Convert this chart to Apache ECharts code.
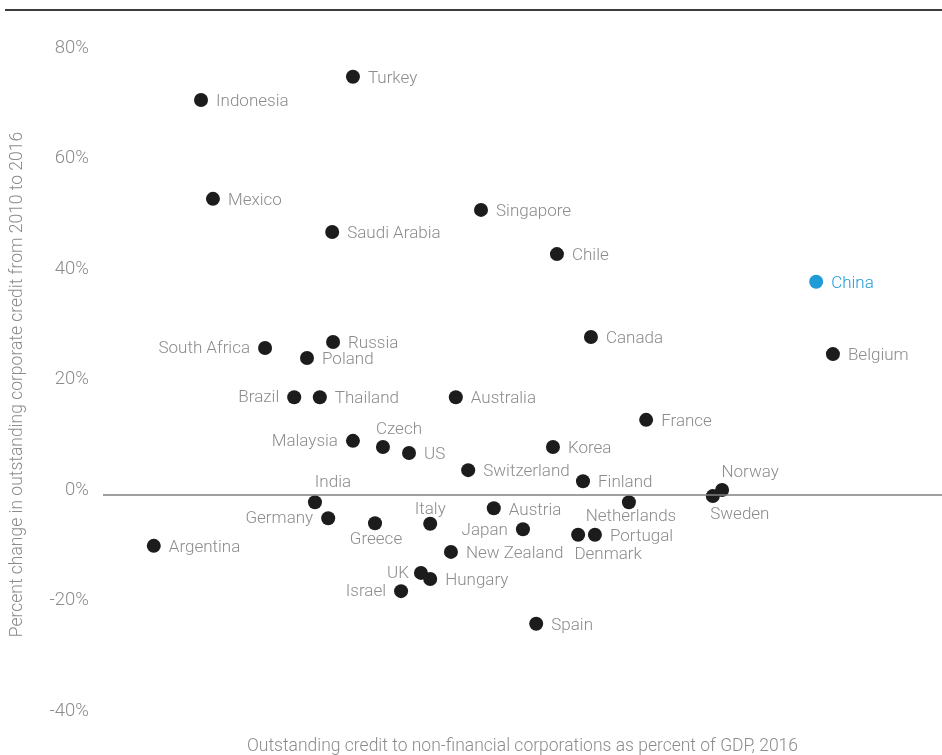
<!DOCTYPE html>
<html>
<head>
<meta charset="utf-8">
<script src="https://cdn.jsdelivr.net/npm/echarts@6/dist/echarts.min.js"></script>
<style>
  html, body { margin: 0; padding: 0; background: #fff; }
  #credit-chart { width: 942px; height: 755px; }
</style>
</head>
<body>
<div id="credit-chart"></div>
<script>
  // values
  const countries = ['Turkey', 'Indonesia', 'Mexico', 'Saudi Arabia', 'Singapore', 'Chile', 'China', 'Canada', 'Belgium',
    'South Africa', 'Russia', 'Poland', 'Brazil', 'Thailand', 'Australia', 'France', 'Malaysia', 'Czech', 'US', 'Korea',
    'Switzerland', 'Finland', 'Norway', 'Sweden', 'India', 'Netherlands', 'Austria', 'Germany', 'Greece', 'Italy', 'Japan',
    'Denmark', 'Portugal', 'Argentina', 'New Zealand', 'UK', 'Hungary', 'Israel', 'Spain'];
  const creditToGdp = [56.6, 22.2, 24.9, 51.9, 85.6, 102.8, 161.5, 110.5, 165.3,
    36.7, 52.1, 46.2, 43.3, 49.1, 79.9, 123.0, 56.6, 63.4, 69.3, 101.9,
    82.7, 108.7, 140.2, 138.1, 48.0, 119.1, 88.5, 51.0, 61.6, 74.1, 95.1,
    107.6, 111.4, 11.5, 78.8, 72.0, 74.1, 67.5, 98.1];
  const creditChange = [75.7, 71.5, 53.6, 47.6, 51.6, 43.6, 38.6, 28.6, 25.5,
    26.6, 27.7, 24.8, 17.7, 17.7, 17.7, 13.6, 9.8, 8.7, 7.6, 8.7,
    4.5, 2.5, 0.9, -0.2, -1.3, -1.3, -2.4, -4.2, -5.1, -5.2, -6.2,
    -7.2, -7.2, -9.2, -10.3, -14.1, -15.2, -17.4, -23.3];
  const highlight = 'China';

  const yMin = -40, yMax = 80, yStep = 20;

  // label placement per country (default: right of the dot)
  const labelSpot = {
    'South Africa': {position: 'left'},
    'Brazil': {position: 'left'},
    'Malaysia': {position: 'left'},
    'Germany': {position: 'left'},
    'Japan': {position: 'left'},
    'Israel': {position: 'left'},
    'UK': {position: 'left', distance: 5},
    'Czech': {position: 'top', distance: 2, offset: [16, 0]},
    'Norway': {position: 'top', distance: 2, offset: [28, 0]},
    'India': {position: 'top', distance: 2, offset: [18, -2]},
    'Italy': {position: 'top', distance: 2, offset: [0, 4]},
    'Sweden': {position: 'bottom', distance: 0, offset: [27, 3]},
    'Netherlands': {position: 'bottom', distance: 0, offset: [2, -1]},
    'Greece': {position: 'bottom', distance: 0, offset: [1, 1]},
    'Denmark': {position: 'bottom', distance: 0, offset: [30, 4]}
  };

  const textGrey = '#8c8c8c';
  const fontFamily = 'Roboto, "Liberation Sans", sans-serif';

  const points = countries.map(function (name, i) {
    const spot = labelSpot[name] || {position: 'right', offset: [0, 2]};
    const isHi = name === highlight;
    return {
      name: name,
      value: [creditToGdp[i], creditChange[i]],
      itemStyle: {color: isHi ? '#1f9bd8' : '#1c1c1c', opacity: 1},
      label: {
        show: true,
        formatter: name,
        position: spot.position,
        distance: spot.distance !== undefined ? spot.distance : 8,
        offset: spot.offset || [0, 1],
        color: isHi ? '#1f9bd8' : textGrey,
        fontSize: 17,
        fontWeight: 300,
        fontFamily: fontFamily
      }
    };
  });

  const chart = echarts.init(document.getElementById('credit-chart'));
  chart.setOption({
    animation: false,
    graphic: [{
      type: 'line',
      shape: {x1: 5, y1: 10, x2: 942, y2: 10},
      style: {stroke: '#3c3c3c', lineWidth: 2}
    }],
    grid: {
      left: 103,
      right: 0,
      top: 53,
      bottom: 39,
      containLabel: false,
      outerBoundsMode: 'none'
    },
    xAxis: {
      type: 'value',
      min: 0,
      max: 190,
      name: 'Outstanding credit to non-financial corporations as percent of GDP, 2016',
      nameLocation: 'middle',
      nameGap: 22,
      nameTextStyle: {color: textGrey, fontSize: 17.5, fontWeight: 300, fontFamily: fontFamily},
      axisLine: {show: false},
      axisTick: {show: false},
      axisLabel: {show: false},
      splitLine: {show: false}
    },
    yAxis: {
      type: 'value',
      min: yMin,
      max: yMax,
      interval: yStep,
      name: 'Percent change in outstanding corporate credit from 2010 to 2016',
      nameLocation: 'middle',
      nameGap: 76,
      nameTextStyle: {color: textGrey, fontSize: 17.5, fontWeight: 300, fontFamily: fontFamily},
      axisLine: {show: false},
      axisTick: {show: false},
      splitLine: {show: false},
      axisLabel: {
        formatter: '{value}%',
        color: textGrey,
        fontSize: 18.5,
        fontWeight: 300,
        fontFamily: fontFamily,
        margin: 14,
        verticalAlign: 'bottom',
        lineHeight: 10
      }
    },
    series: [{
      type: 'scatter',
      symbolSize: 14,
      data: points,
      markLine: {
        silent: true,
        symbol: 'none',
        label: {show: false},
        lineStyle: {color: '#808080', width: 1.5, type: 'solid'},
        data: [{yAxis: 0}]
      }
    }]
  });
</script>
</body>
</html>
